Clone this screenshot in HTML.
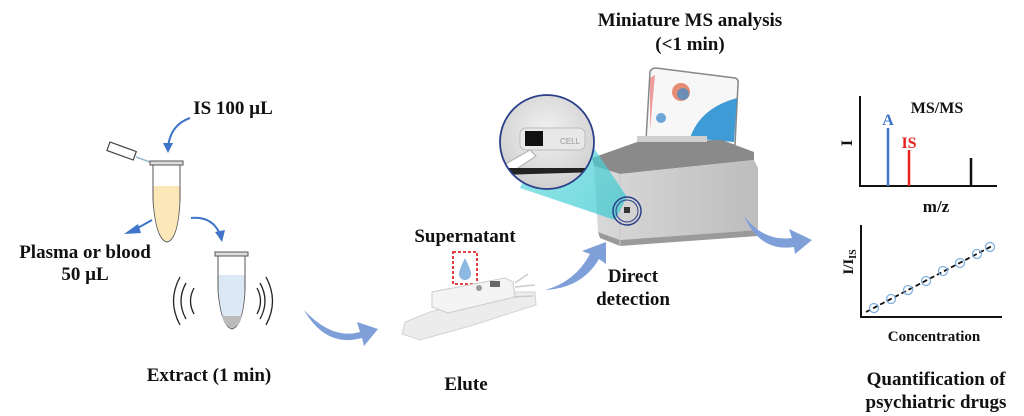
<!DOCTYPE html>
<html><head><meta charset="utf-8"><style>
html,body{margin:0;padding:0;background:#fff;width:1024px;height:416px;overflow:hidden}
svg{display:block}
text{font-family:"Liberation Serif",serif;font-weight:bold;fill:#111}
</style></head><body>
<svg width="1024" height="416" viewBox="0 0 1024 416" xmlns="http://www.w3.org/2000/svg">
<defs>
<linearGradient id="beam" x1="0" y1="0" x2="1" y2="1"><stop offset="0" stop-color="#7fe3e6" stop-opacity="0.9"/><stop offset="1" stop-color="#2ec6cc" stop-opacity="0.8"/></linearGradient>
<linearGradient id="body" x1="0" y1="0" x2="1" y2="0"><stop offset="0" stop-color="#d9d9d9"/><stop offset="1" stop-color="#bdbdbd"/></linearGradient>
<radialGradient id="zoomc" cx="0.5" cy="0.4" r="0.6"><stop offset="0" stop-color="#f2f2f2"/><stop offset="1" stop-color="#cfcfcf"/></radialGradient>
<clipPath id="cc"><circle cx="547" cy="142" r="47"/></clipPath>
</defs>

<text x="233" y="114" font-size="19" text-anchor="middle">IS 100 µL</text>
<path d="M190 118 Q170 125 168 148" fill="none" stroke="#3f74c8" stroke-width="2"/>
<path d="M163 143 L168 153 L173 143 Z" fill="#3f74c8"/>
<g transform="translate(110,142) rotate(20)"><rect x="0" y="0" width="28" height="9" fill="#fff" stroke="#444" stroke-width="1.2"/></g>
<path d="M136 157 L150 162" stroke="#9bc" stroke-width="1.5"/>
<rect x="150" y="161" width="33" height="4" fill="#ddd" stroke="#555" stroke-width="1"/>
<path d="M153 165 L180 165 L180 200 Q178 240 167 242 Q156 240 153 200 Z" fill="#fff" stroke="#555" stroke-width="1"/>
<path d="M153.5 186 L179.5 186 L179.5 200 Q178 239 167 241 Q156 239 153.5 200 Z" fill="#fbe7b8"/>
<path d="M152 220 L136 229" stroke="#3f74c8" stroke-width="2"/>
<path d="M138 224 L124 234 L141 233 Z" fill="#3f74c8"/>
<path d="M191 218 Q212 216 220 234" fill="none" stroke="#3f74c8" stroke-width="2"/>
<path d="M215 232 L222 242 L225 230 Z" fill="#3f74c8"/>
<text x="85" y="258" font-size="19" text-anchor="middle">Plasma or blood</text>
<text x="85" y="280" font-size="19" text-anchor="middle">50 µL</text>
<rect x="215" y="252" width="33" height="4" fill="#ddd" stroke="#555" stroke-width="1"/>
<path d="M218 256 L245 256 L245 290 Q243 326 232 329 Q221 326 218 290 Z" fill="#fff" stroke="#555" stroke-width="1"/>
<path d="M218.5 275 L244.5 275 L244.5 290 Q243 325 232 328 Q221 325 218.5 290 Z" fill="#dde8f5"/>
<path d="M222 316 L242 316 Q240 326 232 328 Q224 326 222 316 Z" fill="#bbb"/>
<g fill="none" stroke="#222" stroke-width="1.3">
<path d="M186 283 Q176 301 186 319"/><path d="M180 277 Q167 301 180 325"/><path d="M194 288 Q187 301 194 314"/>
<path d="M260 283 Q270 301 260 319"/><path d="M266 277 Q279 301 266 325"/><path d="M257 288 Q264 301 257 314"/>
</g>
<text x="209" y="381" font-size="19" text-anchor="middle">Extract (1 min)</text>

<path d="M304 310 Q332 340 360 332 L357 322 L378 329 L364 346 L362 338 Q326 348 304 310 Z" fill="#7f9fd8"/>

<text x="465" y="242" font-size="19" text-anchor="middle">Supernatant</text>
<rect x="453" y="252" width="24" height="32" fill="none" stroke="#e0282a" stroke-width="1.8" stroke-dasharray="3,2"/>
<path d="M465 258 Q459 270 459 274 A6 6 0 0 0 471 274 Q471 270 465 258 Z" fill="#8db8e2"/>
<path d="M405 322 L430 312 L505 292 L535 292 L536 305 L470 326 L420 340 L402 334 Z" fill="#ececec" stroke="#d4d4d4"/>
<path d="M432 292 L505 278 L513 282 L515 297 L448 313 L432 307 Z" fill="#f4f4f4" stroke="#ccc"/>
<rect x="490" y="281" width="10" height="6" fill="#666"/>
<circle cx="479" cy="288" r="3" fill="#999"/>
<path d="M515 283 L528 274 M515 287 L535 285 M513 297 L533 296" stroke="#ccc" stroke-width="1.5"/>
<text x="466" y="390" font-size="19" text-anchor="middle">Elute</text>

<path d="M545 290 Q575 282 590 254 L582 251 L606 242 L606 264 L599 259 Q582 288 545 290 Z" fill="#7f9fd8"/>
<text x="633" y="282" font-size="19" text-anchor="middle">Direct</text>
<text x="633" y="305" font-size="19" text-anchor="middle">detection</text>

<text x="690" y="26" font-size="19" text-anchor="middle">Miniature MS analysis</text>
<text x="690" y="50" font-size="19" text-anchor="middle">(&lt;1 min)</text>
<path d="M656 68 L735 78 Q739 79 738 84 L735 145 L646 140 L650 72 Q651 68 656 68 Z" fill="#f7f7f7" stroke="#888" stroke-width="1.5"/>
<circle cx="681" cy="92" r="9" fill="#e07050" opacity="0.8"/><circle cx="683" cy="94" r="6" fill="#3b8ed0" opacity="0.7"/>
<circle cx="661" cy="118" r="5" fill="#4a90d0" opacity="0.8"/>
<path d="M737 98 Q700 108 690 138 L734 142 Z" fill="#2a90d0" opacity="0.9"/>
<path d="M650 78 L655 75 L650 130 Z" fill="#e86060" opacity="0.6"/>
<path d="M592 158 L640 141 L722 140 L754 152 L754 160 L620 174 L594 166 Z" fill="#8a8a8a"/>
<path d="M594 166 L620 174 L754 160 L758 168 L758 230 L620 240 L598 232 Z" fill="url(#body)"/>
<path d="M598 232 L620 240 L758 230 L758 236 L620 246 L600 238 Z" fill="#9a9a9a"/>
<path d="M620 174 L620 246" stroke="#c8c8c8"/>
<rect x="637" y="136" width="70" height="6" fill="#cfcfcf"/>
<path d="M560 98 L627 197 L615 220 L520 188 Z" fill="url(#beam)" opacity="0.85"/>
<circle cx="627" cy="211" r="14" fill="none" stroke="#2a3f8a" stroke-width="1.5"/>
<circle cx="627" cy="211" r="11" fill="none" stroke="#2a3f8a" stroke-width="1"/>
<rect x="624" y="207" width="6" height="6" fill="#333"/>
<circle cx="547" cy="142" r="47" fill="url(#zoomc)"/>
<g clip-path="url(#cc)">
<rect x="520" y="128" width="65" height="22" rx="6" fill="#e8e8e8" stroke="#bbb"/>
<rect x="525" y="131" width="18" height="15" fill="#111"/>
<text x="560" y="144" font-size="8" style="font-family:'Liberation Sans',sans-serif;font-weight:normal;fill:#999">CELL</text>
<path d="M495 170 L530 150 L536 156 L500 180 Z" fill="#fff" stroke="#aaa"/>
<path d="M500 168 L600 168 L600 172 L500 175 Z" fill="#222"/>
</g>
<circle cx="547" cy="142" r="47" fill="none" stroke="#2a3f8a" stroke-width="1.8"/>

<path d="M744 216 Q764 242 792 238 L789 229 L812 240 L795 254 L794 247 Q760 252 744 216 Z" fill="#7f9fd8"/>

<path d="M860 96 L860 186 L997 186" fill="none" stroke="#111" stroke-width="2"/>
<line x1="888" y1="128" x2="888" y2="186" stroke="#3f74c8" stroke-width="2.5"/>
<line x1="909" y1="150" x2="909" y2="186" stroke="#e8221e" stroke-width="2.5"/>
<line x1="971" y1="158" x2="971" y2="186" stroke="#111" stroke-width="2.5"/>
<text x="888" y="125" font-size="16" text-anchor="middle" style="fill:#3f74c8">A</text>
<text x="909" y="148" font-size="16" text-anchor="middle" style="fill:#e8221e">IS</text>
<text x="937" y="113" font-size="16" text-anchor="middle">MS/MS</text>
<text x="847" y="143" font-size="16" text-anchor="middle" transform="rotate(-90 847 143)" dy="5">I</text>
<text x="936" y="212" font-size="17" text-anchor="middle">m/z</text>

<path d="M861 225 L861 317 L1002 317" fill="none" stroke="#111" stroke-width="2"/>
<line x1="866" y1="312" x2="992" y2="246" stroke="#111" stroke-width="1.8" stroke-dasharray="5,3"/>
<g fill="none" stroke="#7fb0e0" stroke-width="1.3">
<circle cx="874" cy="308" r="4.5"/><circle cx="891" cy="299" r="4.5"/><circle cx="908" cy="290" r="4.5"/>
<circle cx="926" cy="281" r="4.5"/><circle cx="943" cy="271" r="4.5"/><circle cx="960" cy="263" r="4.5"/>
<circle cx="977" cy="254" r="4.5"/><circle cx="990" cy="247" r="4.5"/>
</g>
<text x="0" y="0" font-size="15" transform="translate(853,262) rotate(-90)" text-anchor="middle">I/I<tspan font-size="10" dy="3">IS</tspan></text>
<text x="934" y="341" font-size="15" text-anchor="middle">Concentration</text>
<text x="936" y="385" font-size="19" text-anchor="middle">Quantification of</text>
<text x="936" y="408" font-size="19" text-anchor="middle">psychiatric drugs</text>
</svg>
</body></html>
